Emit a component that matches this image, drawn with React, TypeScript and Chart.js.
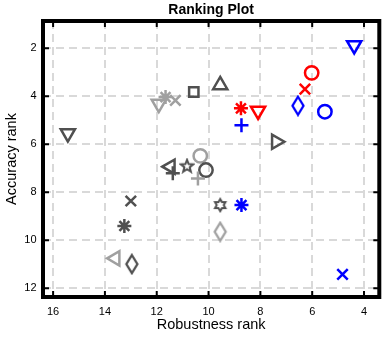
import { useEffect, useRef } from "react";
import { Chart, registerables } from "chart.js";

Chart.register(...registerables);

// ---- data ----
const robustnessRank = [
  4.38, 6.02, 6.28, 6.55, 5.51, 8.09, 8.75, 8.73, 9.55, 10.57,
  11.28, 11.66, 11.92, 15.43, 7.39, 11.47, 11.38, 10.83, 10.32, 10.1,
  10.41, 13.0, 13.25, 13.6, 12.96, 9.55, 8.73, 9.55, 4.83,
];
const accuracyRank = [
  1.87, 3.02, 3.7, 4.39, 4.64, 4.6, 4.5, 5.2, 3.53, 3.82,
  4.17, 4.03, 4.31, 5.54, 5.89, 6.93, 7.2, 6.89, 6.48, 7.07,
  7.42, 8.36, 9.4, 10.75, 10.99, 8.53, 8.53, 9.64, 11.42,
];
// style per point (marker symbol and colour group)
const markerSymbol = [
  "v", "o", "x", "d", "o", "v", "*", "+", "^", "s",
  "x", "*", "v", "v", ">", "<", "+", "p", "o", "o",
  "+", "x", "*", "<", "d", "h", "*", "d", "x",
];
const markerGroup = [
  "blue", "red", "red", "blue", "blue", "red", "red", "blue", "dark", "dark",
  "light", "light", "light", "dark", "dark", "dark", "dark", "dark", "light", "dark",
  "light", "dark", "dark", "light", "dark", "dark", "blue", "light", "blue",
];
const xTicks = [16, 14, 12, 10, 8, 6, 4];
const yTicks = [2, 4, 6, 8, 10, 12];

const COLORS: Record<string, string> = {
  blue: "#0000ff",
  red: "#ff0000",
  dark: "#505050",
  light: "#a0a0a0",
};
const FONT = "'Liberation Sans', Arial, Helvetica, sans-serif";

function makeCanvas(w: number, h: number, draw: (ctx: CanvasRenderingContext2D) => void) {
  const c = document.createElement("canvas");
  c.width = w;
  c.height = h;
  const ctx = c.getContext("2d")!;
  draw(ctx);
  return c;
}

function starPath(ctx: CanvasRenderingContext2D, cx: number, cy: number, n: number, ro: number, ri: number) {
  ctx.beginPath();
  for (let i = 0; i < 2 * n; i++) {
    const r = i % 2 === 0 ? ro : ri;
    const a = -Math.PI / 2 + (i * Math.PI) / n;
    const px = cx + r * Math.cos(a);
    const py = cy + r * Math.sin(a);
    if (i === 0) ctx.moveTo(px, py);
    else ctx.lineTo(px, py);
  }
  ctx.closePath();
}

const shapeCache: Record<string, HTMLCanvasElement> = {};
function customShape(sym: string, color: string) {
  const key = sym + color;
  if (shapeCache[key]) return shapeCache[key];
  let c: HTMLCanvasElement;
  if (sym === "d") {
    c = makeCanvas(16, 22, (ctx) => {
      ctx.strokeStyle = color;
      ctx.lineWidth = 2.3;
      ctx.lineJoin = "miter";
      ctx.beginPath();
      ctx.moveTo(8, 2);
      ctx.lineTo(13.5, 11);
      ctx.lineTo(8, 20);
      ctx.lineTo(2.5, 11);
      ctx.closePath();
      ctx.stroke();
    });
  } else if (sym === "p") {
    c = makeCanvas(16, 16, (ctx) => {
      ctx.strokeStyle = color;
      ctx.lineWidth = 2;
      starPath(ctx, 8, 8.6, 5, 6.5, 2.8);
      ctx.stroke();
    });
  } else {
    c = makeCanvas(16, 16, (ctx) => {
      ctx.strokeStyle = color;
      ctx.lineWidth = 2;
      starPath(ctx, 8, 8, 6, 6, 3.5);
      ctx.stroke();
    });
  }
  shapeCache[key] = c;
  return c;
}

function styleFor(sym: string, color: string): { style: any; rot: number; r: number } {
  switch (sym) {
    case "o": return { style: "circle", rot: 0, r: 6.7 };
    case "s": return { style: "rect", rot: 0, r: 6.6 };
    case "x": return { style: "crossRot", rot: 0, r: 7.4 };
    case "+": return { style: "cross", rot: 0, r: 7 };
    case "*": return { style: "star", rot: 0, r: 7 };
    case "^": return { style: "triangle", rot: 0, r: 8.2 };
    case "v": return { style: "triangle", rot: 180, r: 8.2 };
    case "<": return { style: "triangle", rot: -90, r: 8.2 };
    case ">": return { style: "triangle", rot: 90, r: 8.2 };
    default: return { style: customShape(sym, color), rot: 0, r: 8 };
  }
}

const framePlugin = {
  id: "frame",
  afterDraw(chart: any) {
    const { ctx, chartArea: a, scales } = chart;
    ctx.save();
    ctx.strokeStyle = "#000";
    ctx.lineWidth = 2;
    const tl = 4;
    ctx.beginPath();
    for (const v of xTicks) {
      const px = scales.x.getPixelForValue(v);
      ctx.moveTo(px, a.top);
      ctx.lineTo(px, a.top + tl + 2);
      ctx.moveTo(px, a.bottom);
      ctx.lineTo(px, a.bottom - tl - 2);
    }
    for (const v of yTicks) {
      const py = scales.y.getPixelForValue(v);
      ctx.moveTo(a.left, py);
      ctx.lineTo(a.left + tl + 2, py);
      ctx.moveTo(a.right, py);
      ctx.lineTo(a.right - tl - 2, py);
    }
    ctx.stroke();
    ctx.lineWidth = 4;
    ctx.lineJoin = "miter";
    ctx.strokeRect(a.left, a.top, a.right - a.left, a.bottom - a.top);
    ctx.restore();
  },
};

export default function App() {
  const ref = useRef<HTMLCanvasElement | null>(null);

  useEffect(() => {
    if (!ref.current) return;
    const styles = markerSymbol.map((s, i) => styleFor(s, COLORS[markerGroup[i]]));
    const chart = new Chart(ref.current, {
      type: "scatter",
      data: {
        datasets: [
          {
            data: robustnessRank.map((x, i) => ({ x, y: accuracyRank[i] })),
            pointStyle: styles.map((s) => s.style),
            pointRotation: styles.map((s) => s.rot),
            pointRadius: styles.map((s) => s.r),
            pointBorderColor: markerGroup.map((g) => COLORS[g]),
            pointBackgroundColor: "rgba(0,0,0,0)",
            pointBorderWidth: 2.5,
          } as any,
        ],
      },
      options: {
        animation: false,
        responsive: false,
        events: [],
        layout: { padding: { left: 0, right: 8, top: 0, bottom: 0 } },
        plugins: {
          legend: { display: false },
          tooltip: { enabled: false },
          title: {
            display: true,
            text: "Ranking Plot",
            fullSize: false,
            color: "#000",
            font: { family: FONT, size: 14, weight: "bold", lineHeight: 1.2 },
            padding: { top: 1.8, bottom: 2.4 },
          },
        },
        scales: {
          x: {
            type: "linear",
            reverse: true,
            min: 3.41,
            max: 16.39,
            afterBuildTicks: (s: any) => {
              s.ticks = xTicks.map((v) => ({ value: v }));
            },
            afterFit: (s: any) => {
              s.height = 41;
            },
            grid: { color: "#d9d9d9", lineWidth: 2, drawTicks: false },
            border: { display: false, dash: [8, 5] },
            ticks: { color: "#000", font: { family: FONT, size: 11 }, padding: 8, maxRotation: 0 },
            title: {
              display: true,
              text: "Robustness rank",
              color: "#000",
              font: { family: FONT, size: 14.5, lineHeight: 1.2 },
              padding: { top: 0, bottom: 4 },
            },
          },
          y: {
            type: "linear",
            reverse: true,
            min: 0.86,
            max: 12.36,
            afterBuildTicks: (s: any) => {
              s.ticks = yTicks.map((v) => ({ value: v }));
            },
            afterFit: (s: any) => {
              s.width = 43;
            },
            grid: { color: "#d9d9d9", lineWidth: 2, drawTicks: false },
            border: { display: false, dash: [8, 5] },
            ticks: { color: "#000", font: { family: FONT, size: 11 }, padding: 6.5 },
            title: {
              display: true,
              text: "Accuracy rank",
              color: "#000",
              font: { family: FONT, size: 14.5, lineHeight: 1.2 },
              padding: { top: 3, bottom: 0 },
            },
          },
        },
      } as any,
      plugins: [framePlugin],
    });
    return () => chart.destroy();
  }, []);

  return (
    <div style={{ position: "fixed", left: 0, top: 0, width: 390, height: 338, background: "#fff" }}>
      <canvas ref={ref} width={390} height={338} style={{ display: "block" }} />
    </div>
  );
}
